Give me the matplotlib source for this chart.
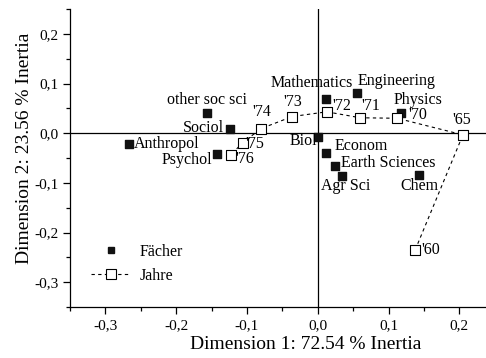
import matplotlib
matplotlib.use("Agg")
import matplotlib.pyplot as plt
from matplotlib.ticker import MultipleLocator, FuncFormatter
from matplotlib.lines import Line2D

# Fächer (subjects)
subjects = ["Anthropol", "other soc sci", "Sociol", "Psychol", "Biol", "Mathematics",
            "Econom", "Earth Sciences", "Agr Sci", "Engineering", "Physics", "Chem"]
subj_x = [-0.267, -0.156, -0.124, -0.142, 0.000, 0.011, 0.012, 0.025, 0.034, 0.056, 0.117, 0.143]
subj_y = [-0.022, 0.040, 0.009, -0.042, -0.008, 0.069, -0.040, -0.066, -0.086, 0.081, 0.041, -0.085]

# Jahre (years), in time order
years = ["'60", "'65", "'70", "'71", "'72", "'73", "'74", "'75", "'76"]
year_x = [0.1376, 0.205, 0.112, 0.060, 0.0127, -0.036, -0.080, -0.106, -0.123]
year_y = [-0.235, -0.0034, 0.030, 0.031, 0.043, 0.0335, 0.0093, -0.019, -0.044]

# label placement: (dx px, dy px, ha)
subj_off = {
    "Anthropol": (5, 0, "left"), "other soc sci": (0, 13, "center"),
    "Sociol": (-6, 1, "right"), "Psychol": (-5, -6, "right"),
    "Biol": (-1, -4, "right"), "Mathematics": (-14, 16, "center"),
    "Econom": (8, 7, "left"), "Earth Sciences": (6, 3, "left"),
    "Agr Sci": (4, -10, "center"), "Engineering": (0, 12, "left"),
    "Physics": (-7, 13, "left"), "Chem": (0, -11, "center"),
}
year_off = {
    "'60": (6, 0, "left"), "'65": (-1, 15, "center"), "'70": (11, 3, "left"),
    "'71": (1, 12, "left"), "'72": (6, 6, "left"), "'73": (0, 15, "center"),
    "'74": (1, 17, "center"), "'75": (3, -1, "left"), "'76": (5, -4, "left"),
}

plt.rcParams["font.family"] = ["Liberation Serif", "DejaVu Serif"]
fs = 11.5

fig = plt.figure(figsize=(4.86, 3.58), dpi=100)
ax = fig.add_axes([70 / 486, 51 / 358, 416 / 486, 298 / 358])

ax.axhline(0, color="black", lw=0.9, zorder=1)
ax.axvline(0, color="black", lw=0.9, zorder=1)

ax.plot(year_x, year_y, ls=(0, (3, 3)), color="black", lw=0.8, zorder=2)
ax.scatter(subj_x, subj_y, marker="s", s=28, color="#111111", zorder=3)
ax.scatter(year_x, year_y, marker="s", s=45, facecolor="white",
           edgecolor="black", linewidths=0.8, zorder=4)

for name, x, y in zip(subjects, subj_x, subj_y):
    dx, dy, ha = subj_off[name]
    ax.annotate(name, (x, y), xytext=(dx, dy), textcoords="offset pixels",
                ha=ha, va="center", fontsize=fs, zorder=5)
for name, x, y in zip(years, year_x, year_y):
    dx, dy, ha = year_off[name]
    ax.annotate(name, (x, y), xytext=(dx, dy), textcoords="offset pixels",
                ha=ha, va="center", fontsize=fs, zorder=5)

ax.set_xlim(-0.35, 0.2376)
ax.set_ylim(-0.35, 0.25)
ax.xaxis.set_major_locator(MultipleLocator(0.1))
ax.xaxis.set_minor_locator(MultipleLocator(0.05))
ax.yaxis.set_major_locator(MultipleLocator(0.1))
ax.yaxis.set_minor_locator(MultipleLocator(0.05))
comma = FuncFormatter(lambda v, p: f"{v:.1f}".replace(".", ",").replace("-0,0", "0,0"))
ax.xaxis.set_major_formatter(comma)
ax.yaxis.set_major_formatter(comma)
ax.tick_params(which="major", length=5, width=0.9, labelsize=11, direction="out")
ax.tick_params(which="minor", length=3, width=0.9, direction="out")

for s in ["top", "right"]:
    ax.spines[s].set_visible(False)
for s in ["left", "bottom"]:
    ax.spines[s].set_linewidth(0.9)

ax.set_xlabel("Dimension 1: 72.54 % Inertia", fontsize=14)
ax.set_ylabel("Dimension 2: 23.56 % Inertia", fontsize=14)
ax.xaxis.set_label_coords(0.567, -0.097)
ax.yaxis.set_label_coords(-0.09, 0.534)

handles = [
    Line2D([], [], ls="none", marker="s", markersize=5, color="#111111"),
    Line2D([], [], ls=(0, (3, 3)), lw=0.8, color="black", marker="s", markersize=6.5,
           markerfacecolor="white", markeredgecolor="black", markeredgewidth=0.8),
]
ax.legend(handles, ["Fächer", "Jahre"], frameon=False, fontsize=fs,
          loc="lower left", bbox_to_anchor=(0.015, 0.03), handlelength=2.5,
          handletextpad=0.55, labelspacing=0.5)

fig.savefig("out.png", dpi=100)
